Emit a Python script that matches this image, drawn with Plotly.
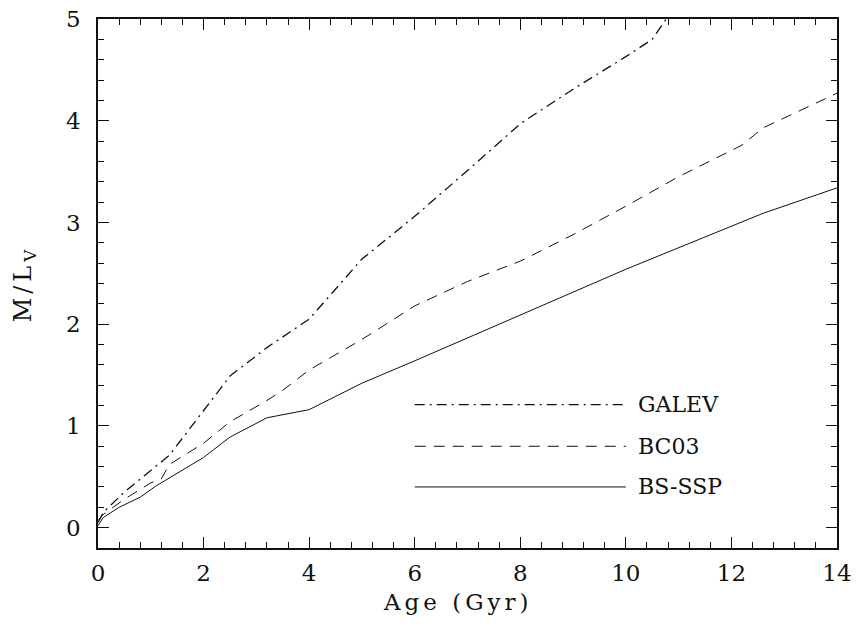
import plotly.graph_objects as go

# ---- data ----
galev_age = [0.0, 0.1, 0.5, 1.0, 1.35, 2.5, 3.2, 4.0, 5.0, 6.0, 7.0, 8.0, 9.0, 10.0, 10.5, 11.2]
galev_ml = [0.05, 0.15, 0.35, 0.56, 0.71, 1.49, 1.77, 2.05, 2.64, 3.06, 3.51, 3.97, 4.31, 4.63, 4.80, 5.33]

bc03_age = [0.0, 0.1, 0.5, 1.0, 1.2, 1.35, 2.0, 2.5, 3.2, 3.5, 4.0, 5.0, 6.0, 7.0, 8.0, 9.0, 10.0, 11.0, 12.2, 12.6, 14.0]
bc03_ml = [0.07, 0.13, 0.28, 0.44, 0.48, 0.62, 0.83, 1.04, 1.25, 1.35, 1.55, 1.85, 2.18, 2.42, 2.62, 2.88, 3.16, 3.45, 3.76, 3.93, 4.27]

bsssp_age = [0.0, 0.1, 0.4, 0.8, 1.1, 1.6, 2.0, 2.5, 3.2, 4.0, 5.0, 6.0, 8.0, 10.0, 12.6, 14.0]
bsssp_ml = [0.02, 0.10, 0.20, 0.30, 0.41, 0.57, 0.69, 0.89, 1.08, 1.16, 1.42, 1.64, 2.09, 2.54, 3.09, 3.34]

series_names = ["GALEV", "BC03", "BS-SSP"]
x_ticks = [0, 2, 4, 6, 8, 10, 12, 14]
y_ticks = [0, 1, 2, 3, 4, 5]

FONT = "DejaVu Serif"
INK = "#111111"
DASHDOT = "10px,5px,2px,5px"
DASHED = "11px,8px"

styles = [
    dict(color=INK, width=1.3, dash=DASHDOT),
    dict(color=INK, width=1.0, dash=DASHED),
    dict(color=INK, width=1.0, dash="solid"),
]

fig = go.Figure()
for (xs, ys), name, st in zip(
    [(galev_age, galev_ml), (bc03_age, bc03_ml), (bsssp_age, bsssp_ml)], series_names, styles
):
    fig.add_trace(go.Scatter(x=xs, y=ys, mode="lines", name=name, line=st,
                             showlegend=False, cliponaxis=True))

# ---- hand-drawn legend, as in the original ----
leg_x0, leg_x1, leg_text_x = 6.0, 10.0, 10.2
leg_y = [1.21, 0.80, 0.40]
for name, st, yy in zip(series_names, styles, leg_y):
    fig.add_shape(type="line", xref="x", yref="y", x0=leg_x0, x1=leg_x1, y0=yy, y1=yy,
                  line=st)
    fig.add_annotation(x=leg_text_x, y=yy, xref="x", yref="y", text=name, showarrow=False,
                       xanchor="left", yanchor="middle",
                       font=dict(family=FONT, size=22, color=INK))

axis_common = dict(
    showgrid=False, zeroline=False, showline=True, linecolor=INK, linewidth=1.5,
    mirror="ticks", ticks="inside", ticklen=11, tickwidth=1.2, tickcolor=INK,
    tickfont=dict(family=FONT, size=23, color=INK), automargin=False,
)

fig.update_xaxes(range=[0, 14], tickvals=x_ticks, ticktext=[str(v) for v in x_ticks],
                 minor=dict(dtick=0.4, tick0=0, ticks="inside", ticklen=6, tickwidth=1.0,
                            tickcolor=INK, showgrid=False),
                 ticklabelstandoff=4, **axis_common)
fig.update_yaxes(range=[-0.2, 5], tickvals=y_ticks, ticktext=[str(v) for v in y_ticks],
                 minor=dict(dtick=0.2, tick0=0, ticks="inside", ticklen=6, tickwidth=1.0,
                            tickcolor=INK, showgrid=False),
                 ticklabelstandoff=11, **axis_common)

fig.add_annotation(text='<span style="letter-spacing:4px">Age (Gyr)</span>',
                   xref="paper", yref="paper", x=0.487, y=-0.074,
                   xanchor="center", yanchor="top", showarrow=False,
                   font=dict(family=FONT, size=23, color=INK))
fig.add_annotation(text='<span style="letter-spacing:4px">M/L<sub>V</sub></span>',
                   xref="paper", yref="paper", x=-0.099, y=0.5,
                   xanchor="center", yanchor="middle", showarrow=False, textangle=-90,
                   font=dict(family=FONT, size=24, color=INK))

fig.update_layout(
    width=856, height=626,
    margin=dict(l=98, r=19, t=19, b=78),
    paper_bgcolor="white", plot_bgcolor="white",
    showlegend=False,
)

fig.write_html("out.html")
